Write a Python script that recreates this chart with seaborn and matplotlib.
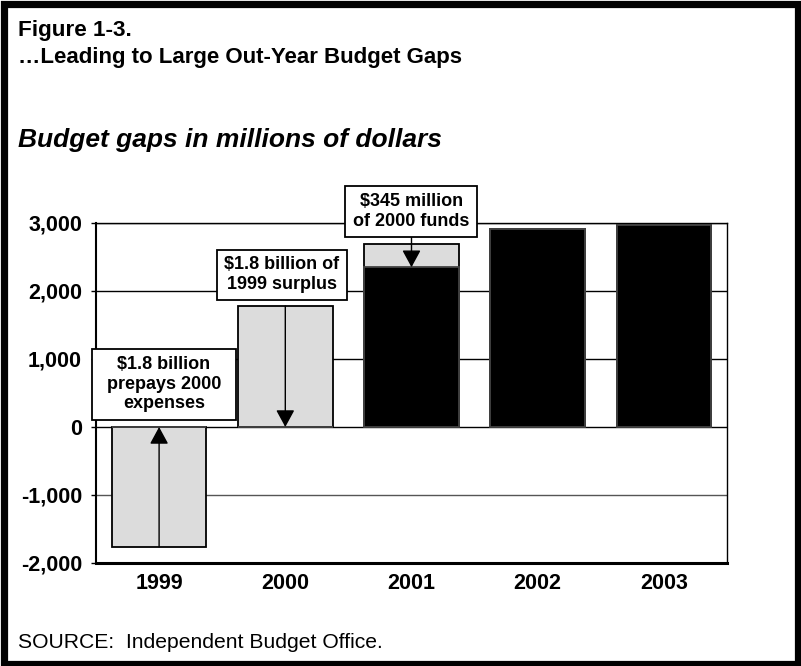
import matplotlib
matplotlib.use("Agg")
import matplotlib.pyplot as plt
from matplotlib.patches import Rectangle
import seaborn as sns
import pandas as pd

# Budget gaps by fiscal year (millions of dollars)
years = ["1999", "2000", "2001", "2002", "2003"]
budget_gap = [0, 0, 2350, 2910, 2965]          # black: remaining gap
shifted_funds = [-1760, 1780, 345, 0, 0]        # gray: prepayments / surplus rolled forward
ytick_values = [-2000, -1000, 0, 1000, 2000, 3000]
ytick_labels = ["-2,000", "-1,000", "0", "1,000", "2,000", "3,000"]

df = pd.DataFrame({
    "year": years,
    "gap": budget_gap,
    "total": [g + s for g, s in zip(budget_gap, shifted_funds)],
})

sns.set_theme(style="white")
plt.rcParams["font.family"] = ["Liberation Sans", "DejaVu Sans"]

W, H = 801, 666
fig = plt.figure(figsize=(W / 100, H / 100), dpi=100)
fig.patch.set_facecolor("white")

def fx(px):
    return px / W

def fy(py):
    return 1 - py / H

ax = fig.add_axes([fx(96), fy(563), fx(727 - 96), (563 - 223) / H])

GRAY = "#dcdcdc"
sns.barplot(data=df, x="year", y="total", color=GRAY, saturation=1,
            edgecolor="black", linewidth=1.3, width=0.75, errorbar=None,
            ax=ax, zorder=2)
sns.barplot(data=df, x="year", y="gap", color="black", saturation=1,
            edgecolor="#444444", linewidth=1.3, width=0.75, errorbar=None,
            ax=ax, zorder=3)

ax.set_xlim(-0.5, 4.5)
ax.set_ylim(-2000, 3000)
ax.set_yticks(ytick_values)
ax.set_yticklabels(ytick_labels)
ax.set_xlabel("")
ax.set_ylabel("")
ax.yaxis.grid(True, color="black", linewidth=1.0)
ax.xaxis.grid(False)
ax.set_axisbelow(True)
# the -1,000 line is drawn a little lighter
ax.get_ygridlines()[1].set_color("#555555")

for side in ["top", "right"]:
    ax.spines[side].set_visible(True)
    ax.spines[side].set_color("black")
    ax.spines[side].set_linewidth(1.0)
ax.spines["left"].set_color("black")
ax.spines["left"].set_linewidth(1.5)
ax.spines["bottom"].set_color("black")
ax.spines["bottom"].set_linewidth(2.2)

ax.tick_params(axis="y", which="major", direction="out", length=3.6, width=1,
               color="black", left=True, pad=6.5)
ax.tick_params(axis="x", length=0, pad=7.5)
for lab in ax.get_yticklabels() + ax.get_xticklabels():
    lab.set_fontweight("bold")
    lab.set_fontsize(15.5)
    lab.set_color("black")

# Arrows showing funds moved between years
arrow_kw = dict(arrowstyle="-|>,head_length=0.7,head_width=0.38",
                color="black", lw=1.0, shrinkA=0, shrinkB=0,
                mutation_scale=15)
ax.annotate("", xy=(0, 0), xytext=(0, df["total"][0]),
            arrowprops=arrow_kw, zorder=5)
ax.annotate("", xy=(1, 0), xytext=(1, df["total"][1]),
            arrowprops=arrow_kw, zorder=5)
ax.annotate("", xy=(2, df["gap"][2]), xytext=(2, 2790),
            arrowprops=arrow_kw, zorder=5)

# Callout boxes
def callout(x0, x1, y0, y1, text):
    ax.add_patch(Rectangle((x0, y0), x1 - x0, y1 - y0, facecolor="white",
                           edgecolor="black", linewidth=1.3, zorder=6,
                           clip_on=False))
    ax.text((x0 + x1) / 2, (y0 + y1) / 2, text, ha="center", va="center",
            fontsize=13, fontweight="bold", color="black", zorder=7,
            linespacing=1.2, clip_on=False)

callout(-0.532, 0.609, 110, 1143, "$1.8 billion\nprepays 2000\nexpenses")
callout(0.455, 1.485, 1870, 2610, "$1.8 billion of\n1999 surplus")
callout(1.476, 2.522, 2795, 3545, "$345 million\nof 2000 funds")

# Titles and source line
fig.text(fx(18), fy(36), "Figure 1-3.", fontsize=16.2, fontweight="bold",
         color="black", va="baseline", ha="left")
fig.text(fx(18), fy(63), "\u2026Leading to Large Out-Year Budget Gaps",
         fontsize=16, fontweight="bold", color="black", va="baseline", ha="left")
fig.text(fx(18), fy(147), "Budget gaps in millions of dollars", fontsize=19,
         fontweight="bold", fontstyle="italic", color="black",
         va="baseline", ha="left")
fig.text(fx(18), fy(648), "SOURCE:  Independent Budget Office.", fontsize=15.2,
         color="black", va="baseline", ha="left")

# Heavy outer frame
fig.patches.append(Rectangle((fx(3.5), fy(663.5)), fx(W - 3.5 - 3.5) - 0,
                             (663.5 - 3.5) / H, transform=fig.transFigure,
                             fill=False, edgecolor="black", linewidth=5.2,
                             figure=fig))

fig.savefig("out.png", dpi=100, facecolor="white")
